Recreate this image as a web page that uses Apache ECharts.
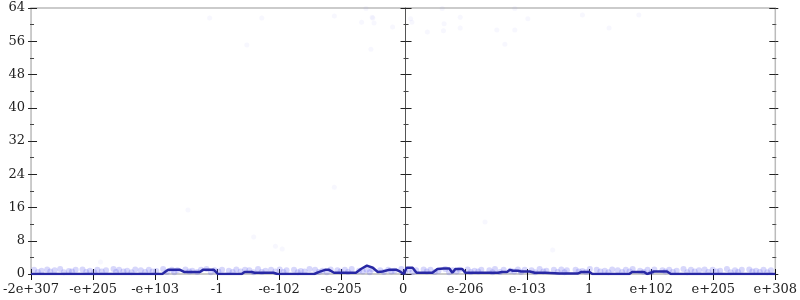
<!DOCTYPE html>
<html>
<head>
<meta charset="utf-8">
<script src="https://cdn.jsdelivr.net/npm/echarts@6/dist/echarts.min.js"></script>
<style>
html, body { margin: 0; padding: 0; background: #fff; }
#chart { width: 800px; height: 300px; }
</style>
</head>
<body>
<div id="chart"></div>
<script>
// tick labels of the symmetric log axis (positions 0..12)
var xLabels = ["-2e+307", "-e+205", "-e+103", "-1", "-e-102", "-e-205", "0",
  "e-206", "e-103", "1", "e+102", "e+205", "e+308"];

// histogram outline
var histX = [0, 2.115, 2.211, 2.403, 2.467, 2.723, 2.772, 2.948, 3.012, 3.396, 3.444, 3.557,
  3.605, 3.909, 3.973, 4.358, 4.566, 4.646, 4.742, 4.806, 4.886, 5.239, 5.319, 5.415, 5.511,
  5.591, 5.671, 5.767, 5.895, 5.960, 6.008, 6.056, 6.152, 6.216, 6.472, 6.552, 6.649, 6.745,
  6.793, 6.841, 6.953, 7.001, 7.530, 7.594, 7.674, 7.722, 7.770, 7.850, 7.898, 8.042, 8.122,
  8.283, 8.523, 8.811, 8.875, 9.003, 9.052, 9.644, 9.692, 9.885, 9.933, 10.045, 10.253,
  10.317, 12];
var histY = [0, 0, 1, 1, 0.5, 0.5, 1, 1, 0, 0, 0.5, 0.5,
  0.3, 0.3, 0, 0, 0, 0.5, 1, 1, 0.3, 0.3, 1.2, 2, 1.5,
  0.5, 0.6, 1, 1, 0.5, 0, 1.5, 1.5, 0.3, 0.3, 1.2, 1.3, 1.3,
  0.3, 1.2, 1.2, 0.3, 0.3, 0.5, 0.5, 1, 0.8, 0.8, 0.6, 0.6, 0.3,
  0.3, 0.1, 0.1, 0.5, 0.5, 0, 0, 0.5, 0.5, 0, 0.6, 0.6,
  0, 0];

// faint sample points
var ptX = [6.12, 6.14, 6.63, 6.92, 6.66, 6.65, 6.39, 6.92, 7.51, 7.80, 7.64, 7.80, 8.01, 8.89,
  4.89, 5.40, 5.50, 5.33, 5.51, 5.53, 5.83, 5.48, 2.88, 3.72, 3.48, 2.53, 3.59, 3.94, 4.05,
  1.12, 4.89, 7.32, 8.41, 9.32, 9.80];
var ptY = [61.4, 60.6, 63.9, 61.8, 60.2, 58.5, 58.2, 59.2, 58.7, 58.7, 55.3, 63.9, 61.4, 62.3,
  62.1, 63.9, 61.8, 60.6, 61.6, 60.4, 59.4, 54.1, 61.6, 61.6, 55.1, 15.4, 8.9, 6.7, 6.0,
  2.9, 20.9, 12.5, 5.8, 59.2, 62.3];

// dense band of points near zero (two rows)
var bandX = [0.05, 0.17, 0.26, 0.38, 0.47, 0.61, 0.72, 0.83, 0.95, 1.07, 1.21, 1.33, 1.42,
  1.55, 1.68, 1.77, 1.9, 2.02, 2.13, 2.27, 2.36, 2.49, 2.6, 2.74, 2.83, 2.96, 3.08, 3.19,
  3.31, 3.45, 3.52, 3.66, 3.78, 3.87, 4.01, 4.12, 4.24, 4.35, 4.49, 4.58, 4.7, 4.83, 4.94,
  5.06, 5.17, 5.29, 5.41, 5.5, 5.63, 5.76, 5.86, 5.97, 6.09, 6.21, 6.33, 6.44, 6.57, 6.68,
  6.8, 6.91, 7.04, 7.15, 7.26, 7.39, 7.48, 7.62, 7.73, 7.85, 7.96, 8.07, 8.2, 8.31, 8.43,
  8.55, 8.64, 8.78, 8.89, 9.01, 9.12, 9.25, 9.37, 9.46, 9.59, 9.7, 9.82, 9.94, 10.05,
  10.18, 10.29, 10.41, 10.52, 10.64, 10.77, 10.86, 10.99, 11.11, 11.22, 11.35, 11.46,
  11.58, 11.69, 11.81, 11.93];
var bandY = [1, 0.8, 1.1, 0.9, 1.2, 0.7, 1, 1.1, 0.8, 1, 0.9, 1.2, 1, 0.8, 1.1, 0.9,
  1, 0.7, 1.2, 1, 0.9, 1.1, 0.8, 1, 1.2, 0.9, 1, 0.8, 1.1, 1, 0.9, 1.2, 0.8, 1, 1.1,
  0.9, 1, 0.7, 1.2, 1, 0.8, 1.1, 0.9, 1, 1.2, 0.8, 1, 1.1, 0.9, 1, 0.8, 1.2, 1, 0.9,
  1.1, 1, 0.8, 1.2, 0.9, 1, 1.1, 0.8, 1, 0.9, 1.2, 1, 0.8, 1.1, 1, 0.9, 1.2, 0.8, 1,
  1.1, 0.9, 1, 0.7, 1.2, 1, 0.8, 1.1, 0.9, 1, 1.2, 0.8, 1, 1.1, 0.9, 1, 0.8, 1.2, 1,
  0.9, 1.1, 1, 0.8, 1.2, 0.9, 1, 1.1, 0.8, 1, 0.9];
var band2X = [0.11, 0.31, 0.53, 0.66, 0.89, 1.02, 1.14, 1.37, 1.49, 1.62, 1.84, 1.96, 2.19,
  2.31, 2.55, 2.68, 2.9, 3.02, 3.25, 3.38, 3.59, 3.72, 3.94, 4.07, 4.3, 4.41, 4.64, 4.77,
  4.99, 5.11, 5.35, 5.46, 5.69, 5.81, 6.03, 6.15, 6.38, 6.51, 6.74, 6.86, 7.09, 7.21, 7.44,
  7.56, 7.79, 7.9, 8.13, 8.26, 8.49, 8.6, 8.83, 8.95, 9.18, 9.31, 9.53, 9.65, 9.88, 10.0,
  10.23, 10.35, 10.58, 10.7, 10.92, 11.05, 11.28, 11.4, 11.63, 11.75, 11.87];
var band2Y = [0.5, 0.6, 0.4, 0.6, 0.5, 0.4, 0.6, 0.5, 0.6, 0.4, 0.5, 0.6, 0.5, 0.4, 0.6, 0.5,
  0.4, 0.6, 0.5, 0.6, 0.4, 0.5, 0.6, 0.5, 0.4, 0.6, 0.5, 0.4, 0.6, 0.5, 0.6, 0.4, 0.5, 0.6,
  0.5, 0.4, 0.6, 0.5, 0.4, 0.6, 0.5, 0.6, 0.4, 0.5, 0.6, 0.5, 0.4, 0.6, 0.5, 0.4, 0.6, 0.5,
  0.6, 0.4, 0.5, 0.6, 0.5, 0.4, 0.6, 0.5, 0.4, 0.6, 0.5, 0.6, 0.4, 0.5, 0.6, 0.5, 0.4];

function zip(a, b) {
  return a.map(function (v, i) { return [v, b[i]]; });
}

var font = "DejaVu Serif";
var chart = echarts.init(document.getElementById("chart"));

function yAx(pos, offset, opts) {
  return Object.assign({
    type: "value", min: 0, max: 64, interval: 8, position: pos, offset: offset,
    axisLine: { show: false },
    splitLine: { show: false },
    axisLabel: { show: false },
    axisTick: { show: true, length: 3, lineStyle: { color: "#222" } },
    minorTick: { show: true, splitNumber: 2, length: 1, lineStyle: { color: "#444" } }
  }, opts);
}

chart.setOption({
  animation: false,
  grid: { left: 28, right: 23, top: 8, bottom: 26, show: true, borderColor: "#bbb", borderWidth: 1.5 },
  xAxis: [
    {
      type: "value", min: 0, max: 12, interval: 1,
      axisLine: { show: false }, splitLine: { show: false },
      axisTick: { length: 6, lineStyle: { color: "#111" } },
      axisLabel: {
        margin: 9, fontFamily: font, fontSize: 13, color: "#222",
        formatter: function (v) { return xLabels[Math.round(v)]; }
      }
    },
    {
      type: "value", min: 0, max: 12, interval: 1, position: "bottom",
      axisLine: { show: false }, splitLine: { show: false }, axisLabel: { show: false },
      axisTick: { inside: true, length: 5, lineStyle: { color: "#111" } }
    }
  ],
  yAxis: [
    yAx("left", 0, {
      axisTick: { show: true, length: 3, lineStyle: { color: "#222" } },
      axisLabel: { show: true, margin: 6, fontFamily: font, fontSize: 13, color: "#222" }
    }),
    yAx("left", 0, {
      axisTick: { show: true, inside: true, length: 6, lineStyle: { color: "#222" } },
      minorTick: { show: true, splitNumber: 2, length: 3, lineStyle: { color: "#444" } }
    }),
    yAx("right", 0, {}),
    yAx("right", 0, {
      axisTick: { show: true, inside: true, length: 6, lineStyle: { color: "#222" } },
      minorTick: { show: true, splitNumber: 2, length: 3, lineStyle: { color: "#444" } }
    }),
    yAx("left", -374.5, {
      axisLine: { show: true, onZero: false, lineStyle: { color: "#555", width: 1 } },
      axisTick: { show: true, length: 5, lineStyle: { color: "#222" } },
      minorTick: { show: true, splitNumber: 2, length: 2, lineStyle: { color: "#444" } }
    }),
    yAx("left", -374.5, {
      axisTick: { show: true, inside: true, length: 6, lineStyle: { color: "#222" } },
      minorTick: { show: true, splitNumber: 2, length: 3, lineStyle: { color: "#444" } }
    })
  ],
  series: [
    {
      type: "scatter", data: zip(bandX, bandY), symbolSize: 6,
      itemStyle: { color: "rgba(90,90,240,0.3)" }, z: 1
    },
    {
      type: "scatter", data: zip(band2X, band2Y), symbolSize: 6,
      itemStyle: { color: "rgba(90,90,240,0.3)" }, z: 1
    },
    {
      type: "scatter", data: zip(ptX, ptY), symbolSize: 5,
      itemStyle: { color: "rgba(120,120,235,0.08)" }, z: 1
    },
    {
      type: "line", data: zip(histX, histY), showSymbol: false, symbol: "none",
      lineStyle: { color: "#2828a4", width: 2.5 }, z: 3
    }
  ]
});
</script>
</body>
</html>
